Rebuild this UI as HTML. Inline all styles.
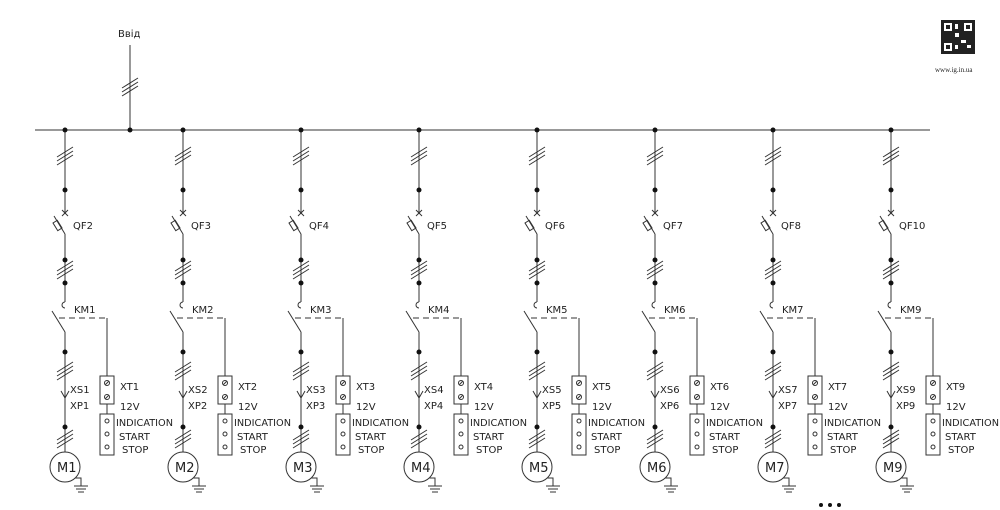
<!DOCTYPE html>
<html><head><meta charset="utf-8"><style>
html,body{margin:0;padding:0;background:#fff;width:1000px;height:510px;overflow:hidden}
svg text{font-family:"DejaVu Sans","Liberation Sans",sans-serif;font-size:10px;fill:#222}
</style></head><body>
<svg width="1000" height="510" viewBox="0 0 1000 510" xmlns="http://www.w3.org/2000/svg" stroke="#333" stroke-width="1" fill="none">
<defs>
<g id="hash"><line x1="-8" y1="4" x2="8" y2="-6"/><line x1="-8" y1="8" x2="8" y2="-2"/><line x1="-8" y1="12" x2="8" y2="2"/></g>
<g id="col">
 <line x1="0" y1="130" x2="0" y2="214"/>
 <circle cx="0" cy="130" r="2.5" fill="#111" stroke="none"/>
 <use href="#hash" y="153"/>
 <circle cx="0" cy="190" r="2.5" fill="#111" stroke="none"/>
 <line x1="-3" y1="210" x2="3" y2="216"/><line x1="3" y1="210" x2="-3" y2="216"/>
 <line x1="-11" y1="216" x2="0" y2="234"/>
 <rect x="-10" y="221" width="5" height="9" transform="rotate(-32 -7.5 225.5)"/>
 <line x1="0" y1="234" x2="0" y2="302"/>
 <circle cx="0" cy="260" r="2.5" fill="#111" stroke="none"/>
 <use href="#hash" y="267"/>
 <circle cx="0" cy="283" r="2.5" fill="#111" stroke="none"/>
 <path d="M0,302 A3,3 0 0 0 0,308"/>
 <line x1="-13" y1="311" x2="0" y2="332"/>
 <line x1="-6" y1="318" x2="42" y2="318" stroke-dasharray="6,4"/>
 <line x1="42" y1="318" x2="42" y2="376"/>
 <line x1="0" y1="332" x2="0" y2="452"/>
 <circle cx="0" cy="352" r="2.5" fill="#111" stroke="none"/>
 <use href="#hash" y="368"/>
 <polyline points="-4,391 0,398 4,391"/>
 <circle cx="0" cy="427" r="2.5" fill="#111" stroke="none"/>
 <use href="#hash" y="436"/>
 <circle cx="0" cy="467" r="15" fill="#fff"/>
 <polyline points="10,478 16,478 16,486"/>
 <line x1="9" y1="486" x2="23" y2="486"/><line x1="11" y1="489" x2="21" y2="489"/><line x1="13" y1="492" x2="19" y2="492"/>
 <rect x="35" y="376" width="14" height="28"/>
 <circle cx="42" cy="383" r="2.5"/><line x1="40" y1="385" x2="44" y2="381"/>
 <circle cx="42" cy="397" r="2.5"/><line x1="40" y1="399" x2="44" y2="395"/>
 <line x1="42" y1="404" x2="42" y2="414"/>
 <rect x="35" y="414" width="14" height="41"/>
 <circle cx="42" cy="421" r="2"/><circle cx="42" cy="434" r="2"/><circle cx="42" cy="447" r="2"/>
 <g stroke="none"><text x="54" y="440">START</text><text x="57" y="453">STOP</text><text x="51" y="426" textLength="57" lengthAdjust="spacingAndGlyphs">INDICATION</text><text x="55" y="410">12V</text></g>
</g>
</defs>
<line x1="35" y1="130" x2="930" y2="130"/>
<line x1="130" y1="45" x2="130" y2="130"/>
<use href="#hash" x="130" y="84"/>
<circle cx="130" cy="130" r="2.5" fill="#111" stroke="none"/>
<text x="118" y="37" stroke="none">Ввід</text>
<g stroke="none">
<rect x="941" y="20" width="34" height="34" fill="#222"/>
<rect x="944" y="23" width="8" height="8" fill="#fff"/><rect x="946" y="25" width="4" height="4" fill="#222"/>
<rect x="964" y="23" width="8" height="8" fill="#fff"/><rect x="966" y="25" width="4" height="4" fill="#222"/>
<rect x="944" y="43" width="8" height="8" fill="#fff"/><rect x="946" y="45" width="4" height="4" fill="#222"/>
<rect x="955" y="33" width="4" height="4" fill="#fff"/><rect x="961" y="40" width="5" height="3" fill="#fff"/><rect x="955" y="45" width="3" height="4" fill="#fff"/><rect x="967" y="45" width="4" height="3" fill="#fff"/><rect x="955" y="24" width="3" height="5" fill="#fff"/>
<text x="935" y="72" font-family="Liberation Serif,serif" style="font-size:7px;font-family:'Liberation Serif',serif">www.ig.in.ua</text>
</g>
<use href="#col" x="65"/><use href="#col" x="183"/><use href="#col" x="301"/><use href="#col" x="419"/>
<use href="#col" x="537"/><use href="#col" x="655"/><use href="#col" x="773"/><use href="#col" x="891"/>
<g stroke="none">
<text x="73" y="229">QF2</text><text x="191" y="229">QF3</text><text x="309" y="229">QF4</text><text x="427" y="229">QF5</text><text x="545" y="229">QF6</text><text x="663" y="229">QF7</text><text x="781" y="229">QF8</text><text x="899" y="229">QF10</text>
<text x="74" y="313">KM1</text><text x="192" y="313">KM2</text><text x="310" y="313">KM3</text><text x="428" y="313">KM4</text><text x="546" y="313">KM5</text><text x="664" y="313">KM6</text><text x="782" y="313">KM7</text><text x="900" y="313">KM9</text>
<text x="120" y="390">XT1</text><text x="238" y="390">XT2</text><text x="356" y="390">XT3</text><text x="474" y="390">XT4</text><text x="592" y="390">XT5</text><text x="710" y="390">XT6</text><text x="828" y="390">XT7</text><text x="946" y="390">XT9</text>
<text x="70" y="393">XS1</text><text x="188" y="393">XS2</text><text x="306" y="393">XS3</text><text x="424" y="393">XS4</text><text x="542" y="393">XS5</text><text x="660" y="393">XS6</text><text x="778" y="393">XS7</text><text x="896" y="393">XS9</text>
<text x="70" y="409">XP1</text><text x="188" y="409">XP2</text><text x="306" y="409">XP3</text><text x="424" y="409">XP4</text><text x="542" y="409">XP5</text><text x="660" y="409">XP6</text><text x="778" y="409">XP7</text><text x="896" y="409">XP9</text>
<text x="57" y="472" style="font-size:13px">M1</text><text x="175" y="472" style="font-size:13px">M2</text><text x="293" y="472" style="font-size:13px">M3</text><text x="411" y="472" style="font-size:13px">M4</text><text x="529" y="472" style="font-size:13px">M5</text><text x="647" y="472" style="font-size:13px">M6</text><text x="765" y="472" style="font-size:13px">M7</text><text x="883" y="472" style="font-size:13px">M9</text>
<circle cx="821" cy="505" r="2" fill="#111"/><circle cx="830" cy="505" r="2" fill="#111"/><circle cx="839" cy="505" r="2" fill="#111"/>
</g>
</svg>
</body></html>
